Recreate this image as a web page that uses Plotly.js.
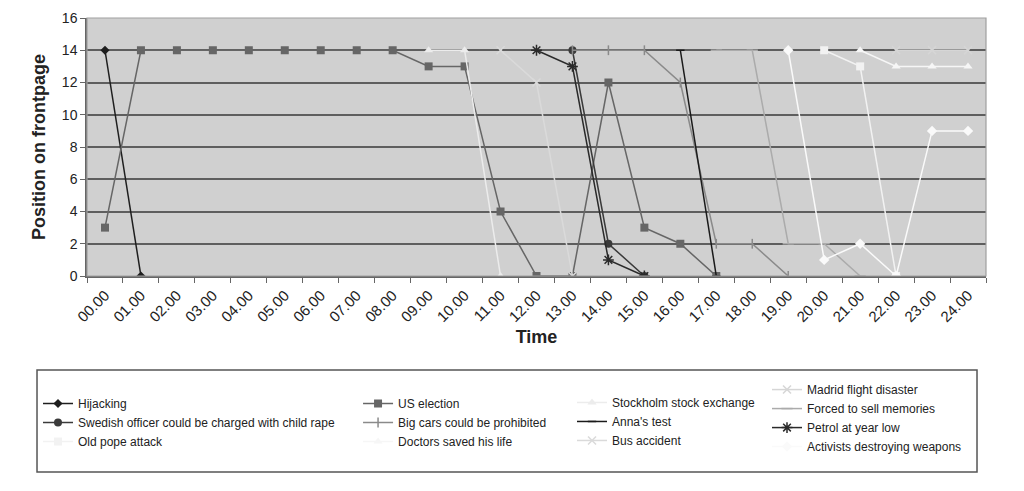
<!DOCTYPE html>
<html>
<head>
<meta charset="utf-8">
<script src="https://cdn.plot.ly/plotly-3.0.1.min.js"></script>
<style>html,body{margin:0;padding:0;background:#fff;}#chart{width:1024px;height:491px;}</style>
</head>
<body>
<div id="chart"></div>
<script>
var times = ["00.00","01.00","02.00","03.00","04.00","05.00","06.00","07.00","08.00","09.00","10.00","11.00","12.00","13.00","14.00","15.00","16.00","17.00","18.00","19.00","20.00","21.00","22.00","23.00","24.00"];
var _ = null;
var hijacking   = [14,0,_,_,_,_,_,_,_,_,_,_,_,_,_,_,_,_,_,_,_,_,_,_,_];
var usElection  = [3,14,14,14,14,14,14,14,14,13,13,4,0,0,12,3,2,0,_,_,_,_,_,_,_];
var swedish     = [_,_,_,_,_,_,_,_,_,_,_,_,_,14,2,0,_,_,_,_,_,_,_,_,_];
var oldPope     = [_,_,_,_,_,_,_,_,_,_,_,_,_,_,_,_,_,_,_,_,14,13,0,_,_];
var bigCars     = [_,_,_,_,_,_,_,_,_,_,_,_,_,14,14,14,12,2,2,0,_,_,_,_,_];
var doctors     = [_,_,_,_,_,_,_,_,_,_,_,_,_,_,_,_,_,_,_,_,_,14,13,13,13];
var stockholm   = [_,_,_,_,_,_,_,_,_,14,14,0,_,_,_,_,_,_,_,_,_,_,_,_,_];
var anna        = [_,_,_,_,_,_,_,_,_,_,_,_,_,_,_,_,14,0,_,_,_,_,_,_,_];
var bus         = [_,_,_,_,_,_,_,_,_,_,_,14,12,0,_,_,_,_,_,_,_,_,_,_,_];
var madrid      = [_,_,_,_,_,_,_,_,_,_,_,_,_,_,_,_,_,_,_,_,_,_,14,14,14];
var forced      = [_,_,_,_,_,_,_,_,_,_,_,_,_,_,_,_,_,14,14,2,2,0,_,_,_];
var petrol      = [_,_,_,_,_,_,_,_,_,_,_,_,14,13,1,0,_,_,_,_,_,_,_,_,_];
var activists   = [_,_,_,_,_,_,_,_,_,_,_,_,_,_,_,_,_,_,_,14,1,2,0,9,9];

var yTicks = [0,2,4,6,8,10,12,14,16];

var FONT = "Liberation Sans, Arial, sans-serif";

function tr(name, y, color, symbol, size, legend) {
  var open = symbol.indexOf('open') >= 0;
  return {
    type: 'scatter', mode: 'lines+markers', name: name, x: times, y: y,
    connectgaps: false, legend: legend,
    line: {color: color, width: 1.5},
    marker: {symbol: symbol, size: size, color: color,
             line: {color: color, width: open ? 1.5 : 0}},
    hoverinfo: 'x+y+name'
  };
}

var data = [
  tr('Hijacking', hijacking, '#1e1e1e', 'diamond', 7, 'legend'),
  tr('US election', usElection, '#666666', 'square', 8, 'legend2'),
  tr('Stockholm stock exchange', stockholm, '#ececec', 'triangle-up', 8, 'legend3'),
  tr('Madrid flight disaster', madrid, '#d6d6d6', 'x-thin-open', 8, 'legend4'),
  tr('Swedish officer could be charged with child rape', swedish, '#3a3a3a', 'circle', 8, 'legend'),
  tr('Big cars could be prohibited', bigCars, '#8a8a8a', 'line-ns-open', 7, 'legend2'),
  tr("Anna's test", anna, '#1a1a1a', 'line-ew-open', 6, 'legend3'),
  tr('Forced to sell memories', forced, '#ababab', 'line-ew-open', 8, 'legend4'),
  tr('Old pope attack', oldPope, '#f2f2f2', 'square', 8, 'legend'),
  tr('Doctors saved his life', doctors, '#f6f6f6', 'triangle-up', 8, 'legend2'),
  tr('Bus accident', bus, '#dadada', 'x-thin-open', 8, 'legend3'),
  tr('Petrol at year low', petrol, '#2a2a2a', 'asterisk-open', 9, 'legend4'),
  tr('Activists destroying weapons', activists, '#fafafa', 'diamond', 8, 'legend4')
];

function legendAt(x, y) {
  return {x: x, y: y, xanchor: 'left', yanchor: 'top', orientation: 'v',
          bgcolor: 'rgba(0,0,0,0)', borderwidth: 0, itemwidth: 30,
          font: {family: FONT, size: 12, color: '#222'}, traceorder: 'normal'};
}

var layout = {
  width: 1024, height: 491,
  margin: {l: 87, r: 38, t: 18, b: 215},
  paper_bgcolor: '#ffffff',
  plot_bgcolor: '#d0d0d0',
  font: {family: FONT, size: 14, color: '#222'},
  showlegend: true,
  xaxis: {
    type: 'category', categoryorder: 'array', categoryarray: times,
    range: [-0.5, 24.5], tickson: 'boundaries',
    ticks: 'outside', ticklen: 5, tickcolor: '#666', tickwidth: 1,
    tickangle: -45, ticklabelstandoff: 3,
    tickfont: {family: FONT, size: 15, color: '#222'},
    showgrid: false, zeroline: false,
    showline: true, linecolor: '#666', linewidth: 1.5,
    title: {text: 'Time', font: {family: FONT, size: 18, color: '#222', weight: 'bold'}, standoff: 6}
  },
  yaxis: {
    range: [0, 16], tickvals: yTicks, ticktext: yTicks.map(String),
    ticks: 'outside', ticklen: 5, tickcolor: '#666', tickwidth: 1,
    tickfont: {family: FONT, size: 14, color: '#222'},
    showgrid: true, gridcolor: '#5e5e5e', gridwidth: 1.5,
    zeroline: false, showline: true, linecolor: '#666', linewidth: 1.5,
    title: {text: 'Position on frontpage', font: {family: FONT, size: 18, color: '#222', weight: 'bold'}, standoff: 12}
  },
  legend: legendAt(-0.0545, -0.438),
  legend2: legendAt(0.3015, -0.438),
  legend3: legendAt(0.5395, -0.434),
  legend4: legendAt(0.7564, -0.384),
  shapes: [
    {type: 'rect', xref: 'paper', yref: 'paper', x0: 0, x1: 1, y0: 0, y1: 1,
     line: {color: '#a0a0a0', width: 1.2}, fillcolor: 'rgba(0,0,0,0)', layer: 'above'},
    {type: 'rect', xref: 'paper', yref: 'paper', x0: -0.0556, x1: 0.99, y0: -0.3643, y1: -0.7597,
     line: {color: '#555', width: 1.5}, fillcolor: 'rgba(0,0,0,0)'}
  ]
};

Plotly.newPlot('chart', data, layout, {displayModeBar: false, responsive: false});
</script>
</body>
</html>
